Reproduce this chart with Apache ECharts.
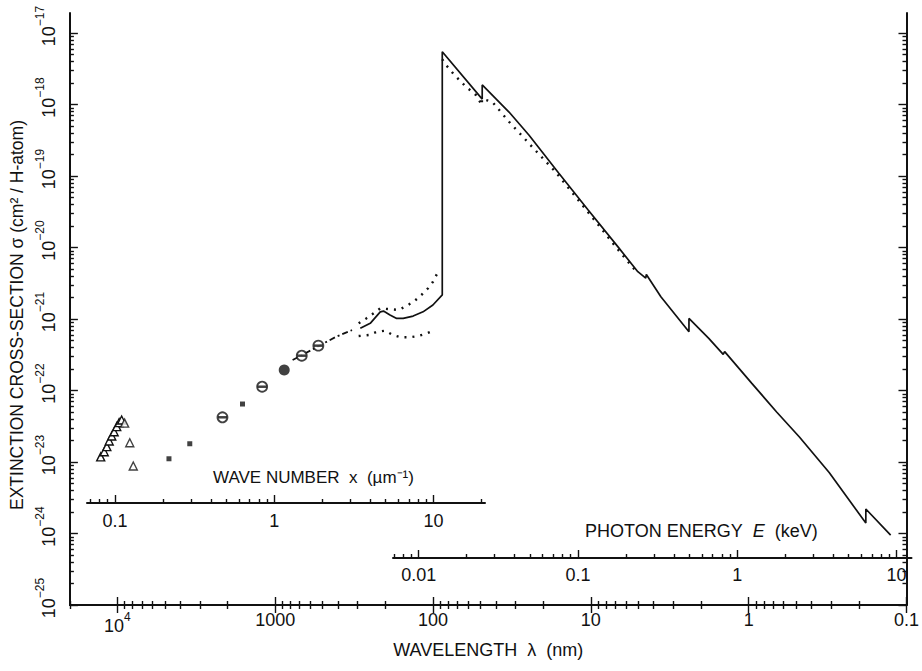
<!DOCTYPE html>
<html>
<head>
<meta charset="utf-8">
<script src="https://cdn.jsdelivr.net/npm/echarts@6.0.0/dist/echarts.min.js"></script>
<style>
  html, body { margin: 0; padding: 0; background: #fff; }
  #chart { width: 922px; height: 671px; }
</style>
</head>
<body>
<div id="chart"></div>
<script>
  // wavelength in nm, cross-section in cm^2 per H atom

  // far-IR triangles joined by a line
  const triLineLambda = [12760, 12120, 11670, 11270, 10860, 10490, 10100, 9750, 9400];
  const triLineSigma = [1.18e-23, 1.39e-23, 1.64e-23, 1.97e-23, 2.31e-23, 2.65e-23, 3.12e-23, 3.55e-23, 3.87e-23];
  // loose triangles after the 10 um peak
  const triLambda = [9000, 8350, 7935];
  const triSigma = [3.5e-23, 1.86e-23, 8.8e-24];
  // small filled squares
  const squareLambda = [4713, 3479, 1612];
  const squareSigma = [1.11e-23, 1.80e-23, 6.47e-23];
  // open circles and the one filled circle
  const circleLambda = [2159, 1210, 679, 533];
  const circleSigma = [4.22e-23, 1.13e-22, 3.07e-22, 4.24e-22];
  const dotLambda = [877];
  const dotSigma = [1.94e-22];
  // dash-dot piece through the optical
  const dashDotLambda = [776, 640, 515, 415, 326];
  const dashDotSigma = [2.67e-22, 3.34e-22, 4.33e-22, 5.6e-22, 7.0e-22];
  // full curve: UV bump, Lyman edge, X-ray edges
  const solidLambda = [289, 250, 216, 206, 187.4, 170, 154.6, 133.7, 115.7, 100.2, 87.4, 87.4,
    48.8, 48.8, 33.0, 24.7, 16.0, 10.4, 6.73, 5.04, 4.49, 4.45, 3.60, 2.39, 2.39,
    1.79, 1.45, 1.42, 0.955, 0.665, 0.477, 0.309, 0.181, 0.181, 0.126];
  const solidSigma = [7.4e-22, 8.7e-22, 1.26e-21, 1.29e-21, 1.14e-21, 1.02e-21, 1.02e-21, 1.10e-21, 1.26e-21, 1.57e-21, 2.17e-21, 5.48e-18,
    1.19e-18, 1.88e-18, 7.85e-19, 3.74e-19, 1.10e-19, 3.34e-20, 1.02e-20, 4.59e-21, 3.74e-21, 4.2e-21, 2.05e-21, 6.64e-22, 1.02e-21,
    5.37e-22, 3.2e-22, 3.5e-22, 1.26e-22, 5.0e-23, 2.24e-23, 7.13e-24, 1.40e-24, 2.20e-24, 9.5e-25];
  // dotted curves
  const upperDotLambda = [296, 265, 238, 216, 187.4, 166, 147, 130.6, 118.4, 107.6, 100, 94.5];
  const upperDotSigma = [8.71e-22, 1.02e-21, 1.20e-21, 1.41e-21, 1.37e-21, 1.34e-21, 1.52e-21, 1.80e-21, 2.17e-21, 2.69e-21, 3.33e-21, 4.26e-21];
  const lowerDotLambda = [296, 256, 227, 201, 180, 160, 140, 124.4, 109.2, 96.8];
  const lowerDotSigma = [5.78e-22, 5.97e-22, 6.64e-22, 6.86e-22, 5.97e-22, 5.55e-22, 5.55e-22, 5.78e-22, 6.31e-22, 7.02e-22];
  const xrayDotLambda = [87.4, 84.5, 73.2, 61.8, 53.5, 49.0, 49.0, 42.1, 33.0, 23.6, 16.8, 12.0, 8.77, 6.90, 5.28];
  const xrayDotSigma = [4.3e-18, 3.77e-18, 2.59e-18, 1.77e-18, 1.36e-18, 9.8e-19, 1.2e-18, 1.09e-18, 5.74e-19, 2.57e-19, 1.15e-19, 4.6e-20, 1.95e-20, 1.0e-20, 4.9e-21];

  // tick values and labels
  const wlTicks = [10000, 1000, 100, 10, 1, 0.1];
  const wlLabels = ['{b|10}{s|4}', '1000', '100', '10', '1', '0.1'];
  const wnTicks = [0.1, 1, 10];
  const wnLabels = ['0.1', '1', '10'];
  const enTicks = [0.01, 0.1, 1, 10];
  const enLabels = ['0.01', '0.1', '1', '10'];
  const sigTicks = [1e-25, 1e-24, 1e-23, 1e-22, 1e-21, 1e-20, 1e-19, 1e-18, 1e-17];
  const sigLabels = ['−25', '−24', '−23', '−22', '−21', '−20', '−19', '−18', '−17'];

  const black = '#111';
  const font = 'Liberation Sans, Arial, Helvetica, sans-serif';

  function zip(xs, ys) {
    return xs.map((x, i) => [x, ys[i]]);
  }
  // 2..9 x 10^k inside [lo, hi]
  function minorTicks(lo, hi) {
    let out = [];
    for (let k = -30; k <= 6; k++) {
      for (let m = 2; m <= 9; m++) {
        let v = m * Math.pow(10, k);
        if (v >= lo && v <= hi) out.push(v);
      }
    }
    return out;
  }
  function pick(ticks, labels) {
    return function (v) {
      let i = ticks.findIndex(t => Math.abs(Math.log10(t) - Math.log10(v)) < 1e-6);
      return i < 0 ? '' : labels[i];
    };
  }

  // axis extents (match the frame of the figure)
  const WL_MIN = 0.1, WL_MAX = 20000;
  const SIG_MIN = 1e-25, SIG_MAX = Math.pow(10, -16.72);
  const WN_MIN = 0.0668, WN_MAX = 21.05;
  const EN_MIN = 0.0069, EN_MAX = 12.398;

  const supRich = {
    b: { fontSize: 18, fontFamily: font, color: black, verticalAlign: 'bottom', lineHeight: 24 },
    s: { fontSize: 12, fontFamily: font, color: black, verticalAlign: 'top', lineHeight: 24 }
  };
  const tickLine = { color: black, width: 1.4 };
  const axisLine = { show: true, lineStyle: { color: black, width: 2 } };

  function xPair(base, pos, major, minor, labelOpt, extra) {
    let a = Object.assign({}, base, {
      position: pos,
      splitLine: { show: false },
      axisLine: axisLine,
      axisTick: { show: true, inside: true, length: 8, customValues: major, lineStyle: tickLine },
      axisLabel: labelOpt || { show: false }
    }, extra || {});
    let b = Object.assign({}, base, {
      position: pos,
      splitLine: { show: false },
      axisLine: { show: false },
      axisTick: { show: true, inside: true, length: 4, customValues: minor, lineStyle: tickLine },
      axisLabel: { show: false }
    });
    return [a, b];
  }

  const wlBase = { type: 'log', logBase: 10, min: WL_MIN, max: WL_MAX, inverse: true, gridIndex: 0 };
  const wnBase = { type: 'log', logBase: 10, min: WN_MIN, max: WN_MAX, gridIndex: 1 };
  const enBase = { type: 'log', logBase: 10, min: EN_MIN, max: EN_MAX, gridIndex: 2 };
  const sigBase = { type: 'log', logBase: 10, min: SIG_MIN, max: SIG_MAX, gridIndex: 0 };

  const xAxes = [].concat(
    xPair(wlBase, 'bottom', wlTicks, minorTicks(WL_MIN, WL_MAX), {
      show: true, customValues: wlTicks, formatter: pick(wlTicks, wlLabels),
      margin: 6, color: black, fontSize: 18, fontFamily: font, rich: supRich
    }, {
      name: 'WAVELENGTH  λ  (nm)', nameLocation: 'middle', nameGap: 36,
      nameTextStyle: { fontSize: 18, fontFamily: font, color: black }
    }),
    xPair(wlBase, 'top', wlTicks, minorTicks(WL_MIN, WL_MAX)),
    xPair(wnBase, 'bottom', wnTicks, minorTicks(WN_MIN, WN_MAX), {
      show: true, customValues: wnTicks, formatter: pick(wnTicks, wnLabels),
      margin: 9, color: black, fontSize: 18, fontFamily: font
    }),
    xPair(enBase, 'bottom', enTicks, minorTicks(EN_MIN, EN_MAX), {
      show: true, customValues: enTicks, formatter: pick(enTicks, enLabels),
      margin: 8, color: black, fontSize: 18, fontFamily: font
    })
  );

  const yAxes = [].concat(
    xPair(sigBase, 'left', sigTicks, minorTicks(SIG_MIN, SIG_MAX), {
      show: true, customValues: sigTicks, rotate: 90, margin: 12,
      formatter: function (v) { return '{b|10}{s|' + pick(sigTicks, sigLabels)(v) + '}'; },
      rich: {
        b: { fontSize: 18, fontFamily: font, color: black, verticalAlign: 'bottom', lineHeight: 24, padding: [0, 0, 0, 14] },
        s: { fontSize: 12, fontFamily: font, color: black, verticalAlign: 'top', lineHeight: 24 }
      }
    }, {
      name: 'EXTINCTION CROSS-SECTION σ (cm² / H-atom)', nameLocation: 'middle', nameGap: 42,
      nameTextStyle: { fontSize: 17.5, fontFamily: font, color: black, padding: [0, 12, 0, 0] }
    }),
    xPair(sigBase, 'right', sigTicks, minorTicks(SIG_MIN, SIG_MAX)),
    [{ type: 'value', gridIndex: 1, show: false }, { type: 'value', gridIndex: 2, show: false }]
  );

  const lineCommon = { type: 'line', xAxisIndex: 0, yAxisIndex: 0, symbol: 'none', showSymbol: false, silent: true };

  const option = {
    animation: false,
    backgroundColor: '#fff',
    textStyle: { fontFamily: font },
    title: [
      {
        text: 'WAVE NUMBER  x  (µm⁻¹)', left: 213, top: 469, padding: 0,
        textStyle: { fontSize: 17, fontWeight: 'normal', color: black, fontFamily: font }
      },
      {
        text: '{n|PHOTON ENERGY  }{i|E}{n|  (keV)}', left: 585, top: 522, padding: 0,
        textStyle: {
          fontSize: 18, fontWeight: 'normal', color: black, fontFamily: font,
          rich: {
            n: { fontSize: 18, color: black, fontFamily: font },
            i: { fontSize: 18, color: black, fontFamily: font, fontStyle: 'italic' }
          }
        }
      }
    ],
    grid: [
      { left: 67, right: 10.5, top: 13, bottom: 66 },
      { left: 87, right: 437, top: 493, height: 10 },
      { left: 393, right: 10.5, top: 548, height: 10 }
    ],
    xAxis: xAxes,
    yAxis: yAxes,
    series: [
      Object.assign({}, lineCommon, {
        data: zip(solidLambda, solidSigma), z: 3,
        lineStyle: { color: black, width: 1.7 }
      }),
      Object.assign({}, lineCommon, {
        data: zip(dashDotLambda, dashDotSigma),
        lineStyle: { color: black, width: 1.8, type: [6, 3, 2, 3] }
      }),
      Object.assign({}, lineCommon, {
        data: zip(upperDotLambda, upperDotSigma),
        lineStyle: { color: black, width: 2.4, type: [2, 6] }
      }),
      Object.assign({}, lineCommon, {
        data: zip(lowerDotLambda, lowerDotSigma),
        lineStyle: { color: black, width: 2.4, type: [2, 6] }
      }),
      Object.assign({}, lineCommon, {
        data: zip(xrayDotLambda, xrayDotSigma),
        lineStyle: { color: black, width: 2.4, type: [2, 6] }
      }),
      Object.assign({}, lineCommon, {
        data: zip(triLineLambda, triLineSigma), z: 4,
        symbol: 'triangle', showSymbol: true, symbolSize: 8,
        itemStyle: { color: '#fff', borderColor: black, borderWidth: 1.4 },
        lineStyle: { color: black, width: 1.4 }
      }),
      {
        type: 'scatter', data: zip(triLambda, triSigma), symbol: 'triangle', symbolSize: 8, z: 4, silent: true,
        itemStyle: { color: '#fff', borderColor: black, borderWidth: 1.4 }
      },
      {
        type: 'scatter', data: zip(squareLambda, squareSigma), symbol: 'rect', symbolSize: 5, z: 4, silent: true,
        itemStyle: { color: black }
      },
      {
        type: 'scatter', data: zip(circleLambda, circleSigma), symbol: 'circle', symbolSize: 10, z: 4, silent: true,
        itemStyle: { color: '#fff', borderColor: black, borderWidth: 1.8 }
      },
      {
        type: 'scatter', data: zip(circleLambda, circleSigma), symbol: 'rect', symbolSize: [9, 2.5], z: 5, silent: true,
        itemStyle: { color: black }
      },
      {
        type: 'scatter', data: zip(dotLambda, dotSigma), symbol: 'circle', symbolSize: 11, z: 4, silent: true,
        itemStyle: { color: black }
      }
    ]
  };

  const chart = echarts.init(document.getElementById('chart'), null, { renderer: 'svg' });
  chart.setOption(option);
</script>
</body>
</html>
